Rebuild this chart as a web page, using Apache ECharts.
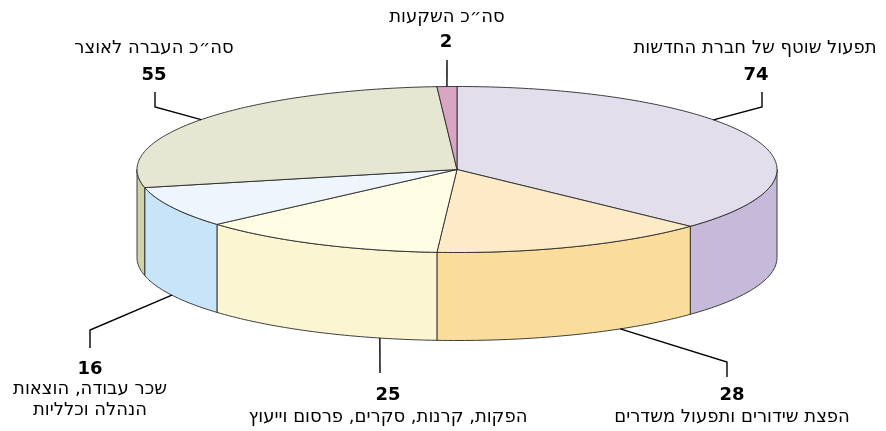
<!DOCTYPE html>
<html>
<head>
<meta charset="utf-8">
<script src="https://cdn.jsdelivr.net/npm/echarts@6/dist/echarts.min.js"></script>
<style>html,body{margin:0;padding:0;background:#fff}#c{width:886px;height:431px}</style>
</head>
<body>
<div id="c"></div>
<script>
// ---- data ----
const categories = [
  'תפעול שוטף של חברת החדשות',
  'הפצת שידורים ותפעול משדרים',
  'הפקות, קרנות, סקרים, פרסום וייעוץ',
  'שכר עבודה, הוצאות\nהנהלה וכלליות',
  'סה״כ העברה לאוצר',
  'סה״כ השקעות'
];
const values = [74, 28, 25, 16, 55, 2];

// ---- styles ----
const topColors  = ['#E3DEEC', '#FDEBC7', '#FFFDE3', '#EEF5FD', '#E5E7D3', '#D8A5C4'];
const sideColors = ['#C6B9D9', '#FADD9A', '#FBF5D2', '#C8E4F8', '#D2D2A8', '#C48DAE'];
// label layout: anchor fraction along slice, leader points, number pos, text pos
const labelLayout = [
  {frac: 0.40, pts: [[762,107],[762,92]], num: [756,75], txt: [755,48]},
  {frac: 0.32, pts: [[727,362],[727,377]], num: [732,395], txt: [732,417]},
  {frac: 0.23, pts: [[380,373]], num: [388,395], txt: [388,417]},
  {frac: 0.50, pts: [[90,330],[90,348]], num: [90,369], txt: [90,400]},
  {frac: 0.50, pts: [[155,107],[155,92]], num: [154,75], txt: [154,48]},
  {frac: 0.50, pts: [[447,60]], num: [446,42], txt: [447,17]}
];
const CX = 457, CY = 169.5, RX = 320, RY = 83, DEPTH = 88;
const FONT = '"DejaVu Sans", Verdana, sans-serif';

const total = values.reduce((a, b) => a + b, 0);
const starts = [];
{ let acc = 0; values.forEach(v => { starts.push(acc / total * 360); acc += v; }); }

function pt(deg, dy) {
  const r = deg * Math.PI / 180;
  return [CX + RX * Math.sin(r), CY - RY * Math.cos(r) + (dy || 0)];
}
function arc(a, b, dy) {
  const n = Math.max(2, Math.ceil(Math.abs(b - a)));
  const pts = [];
  for (let i = 0; i <= n; i++) pts.push(pt(a + (b - a) * i / n, dy));
  return pts;
}

const chart = echarts.init(document.getElementById('c'));
chart.setOption({
  animation: false,
  series: [{
    type: 'custom',
    coordinateSystem: 'none',
    data: values.map((v, i) => ({value: [v], name: categories[i]})),
    renderItem: function (params, api) {
      const i = params.dataIndex;
      const v = api.value(0);
      const a = starts[i], b = a + v / total * 360;
      const children = [];
      const wa = Math.max(a, 90), wb = Math.min(b, 270);
      if (wb > wa) {
        children.push({
          type: 'polygon',
          shape: {points: arc(wa, wb, 0).concat(arc(wb, wa, DEPTH))},
          style: {fill: sideColors[i], stroke: '#2a2a2a', lineWidth: 0.9, lineJoin: 'round'}
        });
      }
      children.push({
        type: 'polygon',
        shape: {points: [[CX, CY]].concat(arc(a, b, 0))},
        style: {fill: topColors[i], stroke: '#2a2a2a', lineWidth: 0.9, lineJoin: 'round'}
      });
      // leader line
      const L = labelLayout[i];
      const am = a + (b - a) * L.frac;
      const front = Math.cos(am * Math.PI / 180) < 0;
      const anchor = pt(am, front ? DEPTH : 0);
      children.push({
        type: 'polyline',
        shape: {points: [anchor].concat(L.pts)},
        style: {fill: null, stroke: '#000', lineWidth: 1.4}
      });
      children.push({
        type: 'text',
        style: {text: String(v), x: L.num[0], y: L.num[1], fill: '#000',
          font: 'bold 18px ' + FONT, align: 'center', verticalAlign: 'middle'}
      });
      children.push({
        type: 'text',
        style: {text: categories[i], x: L.txt[0], y: L.txt[1], fill: '#000',
          font: '18px ' + FONT, align: 'center', verticalAlign: 'middle', lineHeight: 21}
      });
      return {type: 'group', children: children};
    }
  }]
});
</script>
</body>
</html>
